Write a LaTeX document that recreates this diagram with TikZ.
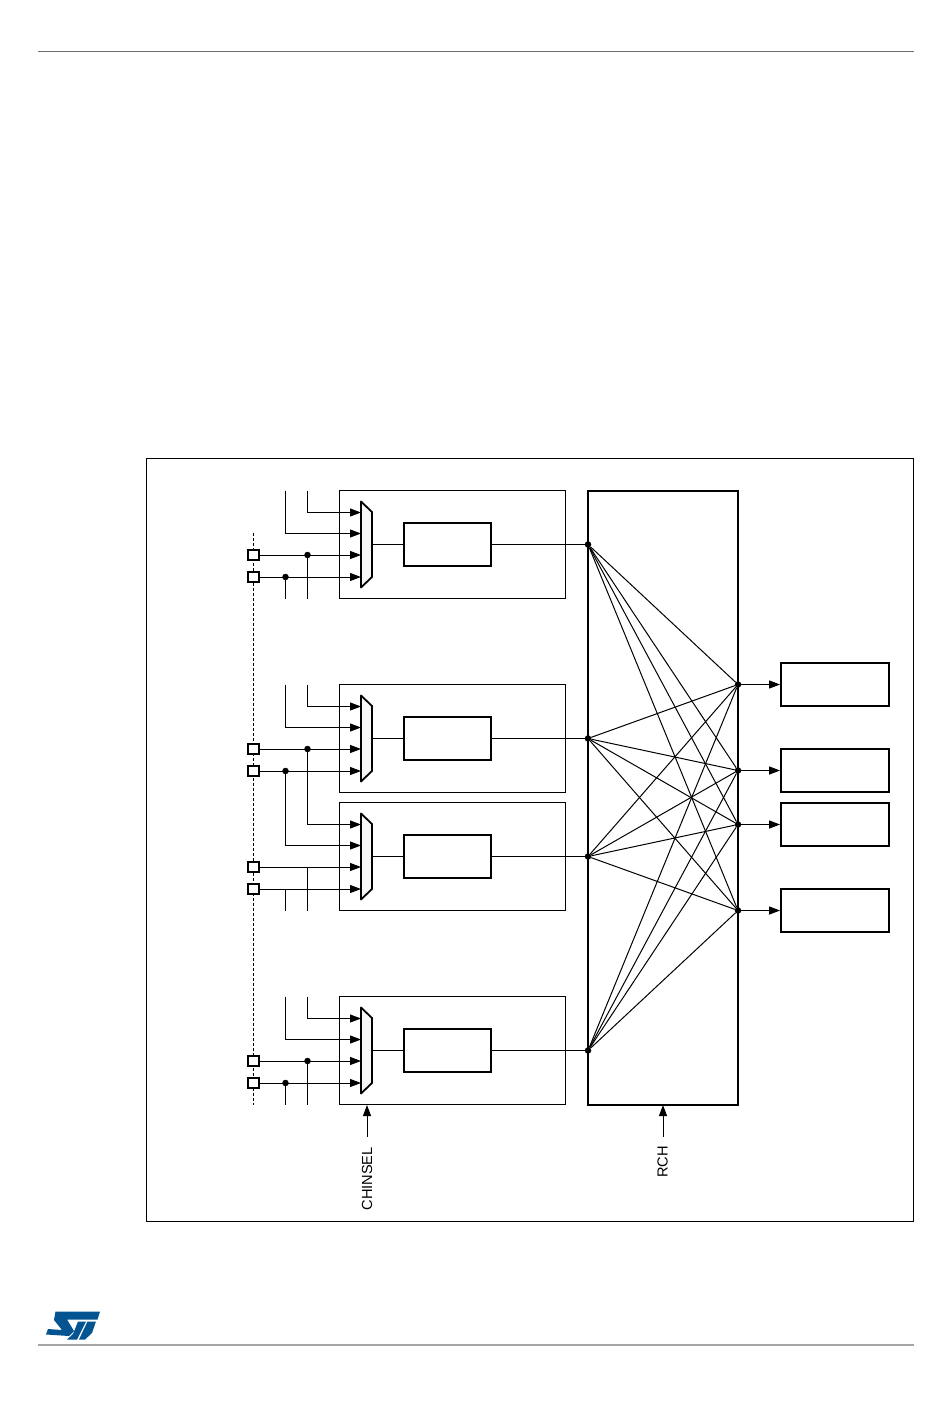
\documentclass[tikz,border=0pt]{standalone}
\usepackage{fontspec}
\setmainfont{Liberation Sans}
\usetikzlibrary{arrows.meta}

\definecolor{stblue}{RGB}{3,84,145}
\definecolor{rulegray}{RGB}{110,110,110}

\tikzset{
	thinline/.style={line width=1pt},
	block/.style={draw,line width=1pt,fill=none},
	heavy/.style={draw,line width=1.8pt},
	pin/.style={draw,line width=2pt,fill=white,minimum size=10.5pt,inner sep=0pt},
	dot/.style={circle,fill=black,minimum size=6.5pt,inner sep=0pt}
}

\begin{document}
\begin{tikzpicture}[x=1pt,y=-1pt,>={Triangle[length=11pt,width=8pt]}]
		\useasboundingbox (0,0) rectangle (950,1420);

		\draw[rulegray,line width=0.8pt] (38,51.5) -- (914,51.5);
		\draw[gray!70,line width=1.6pt] (38,1345) -- (914,1345);
		\draw[block,line width=0.8pt] (146,458.7) rectangle (913.3,1221);

		\fill[stblue] (55.5,1311.5) -- (100,1311.5) -- (97.5,1319.5) -- (67,1319.5) -- (74,1331) -- (69,1336) -- (46,1334.5) -- (48,1329) -- (62,1330) -- (54,1320) -- cycle;
		\fill[stblue] (78,1321.5) -- (86,1321.5) -- (77,1339.5) -- (67,1339.5) -- (73,1334) -- cycle;
		\fill[stblue] (87.5,1321.5) -- (96,1321.5) -- (92,1333) -- (85,1339.5) -- (79,1339.5) -- cycle;

		% shared line behind the pins
		\coordinate (bustop) at (253.5,533);
		\coordinate (busbot) at (253.5,1105);
		\draw[densely dashed,thinline] (bustop) -- (busbot);

		% matrix
		\draw[heavy] (588,491) rectangle (738,1105);

		% the four input blocks
		\foreach \name/\top in {a/490.5,b/684.5,c/802.5,d/996.5} {
			\draw[block] (339.5,\top) rectangle (565.5,\top+108);
			\node[heavy,minimum width=87pt,minimum height=43pt,inner sep=0pt] (adc\name) at (447.5,\top+54) {};
			\coordinate (muxout\name) at (372,\top+54);
			\draw[heavy,fill=gray!6,line join=round] (361,\top+11) -- (372,\top+21.5) -- (372,\top+86.5) -- (361,\top+97) -- cycle;
			\foreach \n/\dy in {1/22,2/43,3/64.5,4/86.5} {
				\coordinate (in\name\n) at (361,\top+\dy);
			}
			\node[pin] (pin\name3) at (253.5,\top+64.5) {};
			\node[pin] (pin\name4) at (253.5,\top+86.5) {};
			\draw[->,thinline] (pin\name3) -- (in\name3);
			\draw[->,thinline] (pin\name4) -- (in\name4);
			\draw[thinline] (muxout\name) -- (adc\name);
			\node[dot] (out\name) at (588,\top+54) {};
			\draw[thinline] (adc\name) -- (out\name);
			\coordinate (vone\name) at (307.5,\top);
			\coordinate (vtwo\name) at (285.5,\top);
			\coordinate (vonebot\name) at (307.5,\top+108);
			\coordinate (vtwobot\name) at (285.5,\top+108);
		}

		% upper two inputs of each mux
		\foreach \name in {a,b,d} {
			\draw[->,thinline] (vone\name) |- (in\name1);
			\draw[->,thinline] (vtwo\name) |- (in\name2);
			\node[dot] (jone\name) at (vone\name |- in\name3) {};
			\node[dot] (jtwo\name) at (vtwo\name |- in\name4) {};
		}
		\foreach \name in {a,d} {
			\draw[thinline] (jone\name) -- (vonebot\name);
			\draw[thinline] (jtwo\name) -- (vtwobot\name);
		}

		% the pair shared by b and c
		\draw[->,thinline] (joneb) |- (inc1);
		\draw[->,thinline] (jtwob) |- (inc2);
		\draw[thinline] (vonec |- inc3) -- (vonebotc);
		\draw[thinline] (vtwoc |- inc4) -- (vtwobotc);

		% outputs
		\foreach \name/\mid in {p/684.5,q/770.5,r/824.5,s/910.5} {
			\node[dot] (xout\name) at (738,\mid) {};
			\node[heavy,minimum width=108pt,minimum height=43pt,inner sep=0pt] (ch\name) at (835,\mid) {};
			\draw[->,thinline] (xout\name) -- (ch\name);
		}

		% crossbar
		\foreach \l in {a,b,c,d}
			\foreach \r in {p,q,r,s}
				\draw[thinline] (out\l) -- (xout\r);

		% control labels
		\node[rotate=90,anchor=east,font=\fontsize{14.6}{15}\selectfont,inner sep=0pt] (chinsel) at (367,1147) {CHINSEL};
		\node[rotate=90,anchor=east,font=\fontsize{14.6}{15}\selectfont,inner sep=0pt] (rch) at (662.5,1146) {RCH};
		\coordinate (chinseltip) at (367,1105);
		\coordinate (rchtip) at (663,1105);
		\draw[->,thinline] (367,1137) -- (chinseltip);
		\draw[->,thinline] (663,1137) -- (rchtip);
	\end{tikzpicture}
\end{document}
